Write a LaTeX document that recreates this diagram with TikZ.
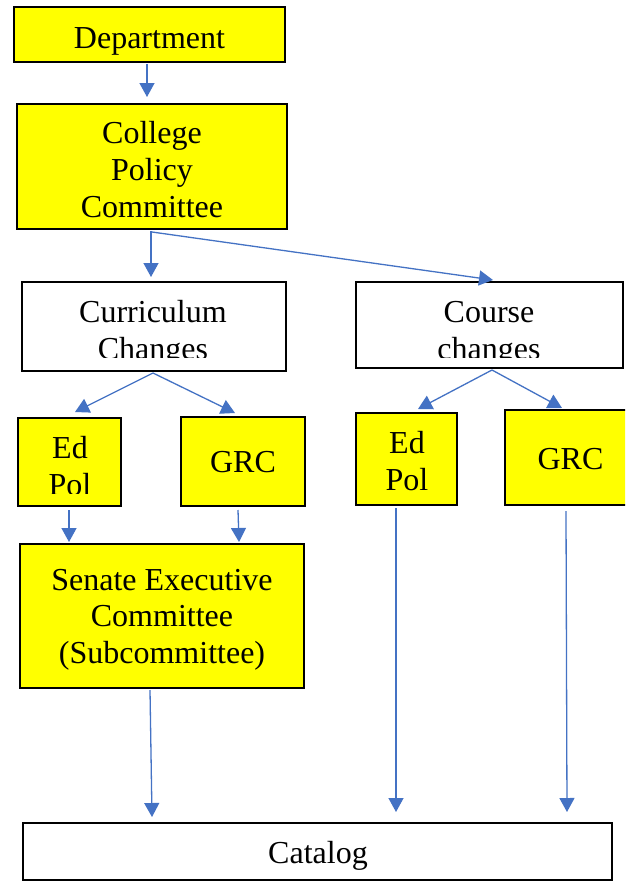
\documentclass[tikz,border=0pt]{standalone}
\usepackage{fontspec}
\setmainfont{Liberation Serif}
\usetikzlibrary{arrows.meta}
\definecolor{ofblue}{HTML}{4472C4}
\definecolor{ofyellow}{HTML}{FFFF00}
\tikzset{
  ybox/.style={draw=black, line width=2pt, fill=ofyellow, inner sep=0pt, rectangle},
  wbox/.style={draw=black, line width=2pt, fill=white, inner sep=0pt, rectangle},
  lbl/.style={anchor=base, inner sep=0pt, font=\fontsize{32}{37}\selectfont},
  arr/.style={draw=ofblue, color=ofblue, line width=1.3pt, -{Triangle[width=15pt,length=14pt]}}
}
\begin{document}
\begin{tikzpicture}[x=1pt,y=-1pt]
\path[use as bounding box, clip] (0,0) rectangle (625,881);
\fill[white] (0,0) rectangle (625,881);

% boxes
\node[ybox, minimum width=271pt, minimum height=55pt] (dept) at (149.5,34.5) {};
\node[ybox, minimum width=270pt, minimum height=125pt] (cpc) at (152,166.5) {};
\node[wbox, minimum width=264pt, minimum height=89pt] (cur) at (154,326.5) {};
\node[wbox, minimum width=267pt, minimum height=86pt] (cou) at (489.5,325) {};
\node[ybox, minimum width=103pt, minimum height=88pt] (epl) at (69.5,462) {};
\node[ybox, minimum width=124pt, minimum height=89pt] (grl) at (243,461.5) {};
\node[ybox, minimum width=101pt, minimum height=92pt] (epr) at (406.5,459) {};
\node[ybox, minimum width=131pt, minimum height=95pt] (grr) at (570.5,457.5) {};
\node[ybox, minimum width=284pt, minimum height=144pt] (sec) at (162,616) {};
\node[wbox, minimum width=589pt, minimum height=57pt] (cat) at (317.5,851.5) {};

% labels
\node[lbl] (dept-t) at (149.5,48) {Department};
\node[lbl] (cpc-t1) at (152,143) {College};
\node[lbl] (cpc-t2) at (152,180) {Policy};
\node[lbl] (cpc-t3) at (152,217) {Committee};
\node[lbl] (cur-t1) at (153,322) {Curriculum};
\begin{scope}
  \clip (22,282) rectangle (286,357.5);
  \node[lbl] (cur-t2) at (153,359.5) {Changes};
\end{scope}
\node[lbl] (cou-t1) at (489,322) {Course};
\begin{scope}
  \clip (356,282) rectangle (623,357);
  \node[lbl] (cou-t2) at (489,359) {changes};
\end{scope}
\node[lbl] (epl-t1) at (70,458) {Ed};
\begin{scope}
  \clip (18,418) rectangle (121,493);
  \node[lbl] (epl-t2) at (70,495) {Pol};
\end{scope}
\node[lbl] (grl-t) at (243,472) {GRC};
\node[lbl] (epr-t1) at (407,453) {Ed};
\node[lbl] (epr-t2) at (407,490) {Pol};
\node[lbl] (grr-t) at (570.5,469) {GRC};
\node[lbl] (sec-t1) at (162,590) {Senate Executive};
\node[lbl] (sec-t2) at (162,626.5) {Committee};
\node[lbl] (sec-t3) at (162,663) {(Subcommittee)};
\node[lbl] (cat-t) at (318,863) {Catalog};

% connectors
\draw[arr] ([xshift=-2.5pt,yshift=-1pt]dept.south) -- ([xshift=-5pt,yshift=6pt]cpc.north);
\draw[arr] ([xshift=-1pt,yshift=-1pt]cpc.south) -- ([xshift=-3pt,yshift=4pt]cur.north);
\draw[arr] ([yshift=-2pt]cpc.south) -- ([xshift=3.5pt,yshift=1pt]cou.north);
\draw[arr] ([xshift=-1pt,yshift=-1pt]cur.south) -- ([xshift=5.5pt,yshift=5pt]epl.north);
\draw[arr] ([xshift=-1pt,yshift=-1pt]cur.south) -- ([xshift=-8pt,yshift=3pt]grl.north);
\draw[arr] ([xshift=2.5pt,yshift=-1pt]cou.south) -- ([xshift=11.5pt,yshift=3pt]epr.north);
\draw[arr] ([xshift=2.5pt,yshift=-1pt]cou.south) -- ([xshift=-8.5pt,yshift=1pt]grr.north);
\draw[arr] ([xshift=-0.5pt,yshift=-3pt]epl.south) -- ([xshift=-93pt,yshift=1pt]sec.north);
\draw[arr] ([xshift=-5pt,yshift=-3pt]grl.south) -- ([xshift=77pt,yshift=1pt]sec.north);
\draw[arr] ([xshift=-12pt,yshift=-1pt]sec.south) -- ([xshift=-165.5pt,yshift=5pt]cat.north);
\draw[arr] ([xshift=-10.5pt,yshift=-2pt]epr.south) -- ([xshift=78.5pt,yshift=10pt]cat.north);
\draw[arr] ([xshift=-4.5pt,yshift=-5pt]grr.south) -- ([xshift=249.5pt,yshift=10pt]cat.north);
\end{tikzpicture}
\end{document}
